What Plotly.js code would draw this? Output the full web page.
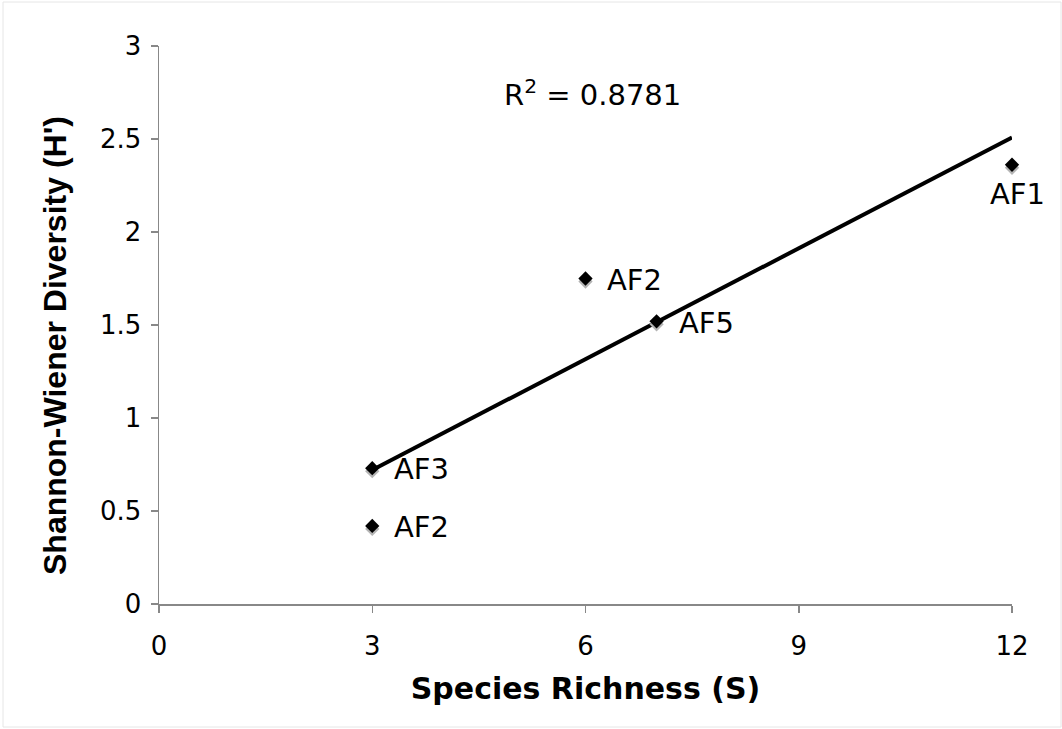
<!DOCTYPE html>
<html>
<head>
<meta charset="utf-8">
<script src="https://cdn.plot.ly/plotly-3.0.1.min.js"></script>
<style>
  html, body { margin: 0; padding: 0; background: #fff; }
  #chart { width: 1062px; height: 729px; }
</style>
</head>
<body>
<div id="chart"></div>
<script>
// Agroforestry plots: species richness vs Shannon-Wiener diversity
const siteLabels = ['AF1', 'AF2', 'AF5', 'AF3', 'AF2'];
const speciesRichness = [12, 6, 7, 3, 3];
const shannonH = [2.3615, 1.75, 1.52, 0.73, 0.42];
const xTicks = [0, 3, 6, 9, 12];
const yTicks = [0, 0.5, 1, 1.5, 2, 2.5, 3];

// label placement relative to each point (pixels)
const labelAnchor = ['center', 'left', 'left', 'left', 'left'];
const labelShiftX = [5, 19, 20, 20, 20];
const labelShiftY = [-29, -1, -2, -1, -1];

// Least-squares linear fit
const n = speciesRichness.length;
const mx = speciesRichness.reduce((a, b) => a + b, 0) / n;
const my = shannonH.reduce((a, b) => a + b, 0) / n;
let sxx = 0, sxy = 0, syy = 0;
for (let i = 0; i < n; i++) {
  const dx = speciesRichness[i] - mx, dy = shannonH[i] - my;
  sxx += dx * dx; sxy += dx * dy; syy += dy * dy;
}
const slope = sxy / sxx;
const intercept = my - slope * mx;
const r2 = (sxy * sxy) / (sxx * syy);
const xMin = Math.min(...speciesRichness), xMax = Math.max(...speciesRichness);
const fitX = [xMin, xMax];
const fitY = fitX.map(x => intercept + slope * x);

// drop shadow under the markers, a few pixels below each point
const plotHeightPx = 558, yRange = 3;
const shadowY = shannonH.map(v => v - 3 * yRange / plotHeightPx);

const tickFont = { family: 'DejaVu Sans, Verdana, sans-serif', size: 26, color: '#000' };
const labelFont = { family: 'DejaVu Sans, Verdana, sans-serif', size: 29, color: '#000' };

const traces = [
  {
    x: fitX, y: fitY, mode: 'lines', type: 'scatter',
    line: { color: '#000', width: 4 }, hoverinfo: 'skip', showlegend: false
  },
  {
    x: speciesRichness, y: shadowY, mode: 'markers', type: 'scatter',
    marker: { symbol: 'diamond', size: 11, color: '#b4b4b4', line: { width: 0 } },
    hoverinfo: 'skip', showlegend: false, cliponaxis: false
  },
  {
    x: speciesRichness, y: shannonH, mode: 'markers', type: 'scatter',
    marker: { symbol: 'diamond', size: 11, color: '#000', line: { width: 0 } },
    showlegend: false, cliponaxis: false
  }
];

const pointLabels = siteLabels.map((s, i) => ({
  x: speciesRichness[i], y: shannonH[i], xref: 'x', yref: 'y',
  text: s, showarrow: false, font: labelFont,
  xanchor: labelAnchor[i], yanchor: 'middle',
  xshift: labelShiftX[i], yshift: labelShiftY[i]
}));

const layout = {
  width: 1062, height: 729,
  paper_bgcolor: '#fff', plot_bgcolor: '#fff',
  margin: { l: 159, r: 50, t: 46, b: 125 },
  showlegend: false,
  xaxis: {
    range: [0, 12], tickvals: xTicks, ticktext: xTicks.map(String),
    showgrid: false, zeroline: false, showline: true,
    linecolor: '#888', linewidth: 1.5,
    ticks: 'outside', ticklen: 7, tickcolor: '#888', tickwidth: 1.5,
    tickfont: tickFont, ticklabelstandoff: 11,
    title: {
      text: 'Species Richness (S)', standoff: 18,
      font: { family: 'DejaVu Sans, Verdana, sans-serif', size: 30, color: '#000', weight: 'bold' }
    }
  },
  yaxis: {
    range: [0, 3], tickvals: yTicks, ticktext: yTicks.map(String),
    showgrid: false, zeroline: false, showline: true,
    linecolor: '#888', linewidth: 1.5,
    ticks: 'outside', ticklen: 7, tickcolor: '#888', tickwidth: 1.5,
    tickfont: tickFont, ticklabelstandoff: 4
  },
  annotations: [
    {
      xref: 'paper', yref: 'paper', x: (55 - 159) / 853, y: (604 - 346) / 558,
      xanchor: 'center', yanchor: 'middle', textangle: -90, showarrow: false,
      text: "Shannon-Wiener Diversity (H')",
      font: { family: 'Liberation Sans, Arial, sans-serif', size: 32, color: '#000', weight: 'bold' }
    },
    {
      xref: 'paper', yref: 'paper', x: (592 - 159) / 853, y: 0.916, xanchor: 'center', yanchor: 'middle',
      showarrow: false,
      text: 'R<sup>2</sup> = ' + r2.toFixed(4),
      font: { family: 'DejaVu Sans, Verdana, sans-serif', size: 29, color: '#000' }
    }
  ].concat(pointLabels),
  shapes: [
    {
      type: 'rect', xref: 'paper', yref: 'paper',
      x0: -156 / 853, x1: 1 + 49 / 853, y0: -123 / 558, y1: 1 + 44 / 558,
      line: { color: '#e6e6e6', width: 1 }, fillcolor: 'rgba(0,0,0,0)', layer: 'below'
    }
  ]
};

Plotly.newPlot('chart', traces, layout, { displayModeBar: false, staticPlot: true });
</script>
</body>
</html>
